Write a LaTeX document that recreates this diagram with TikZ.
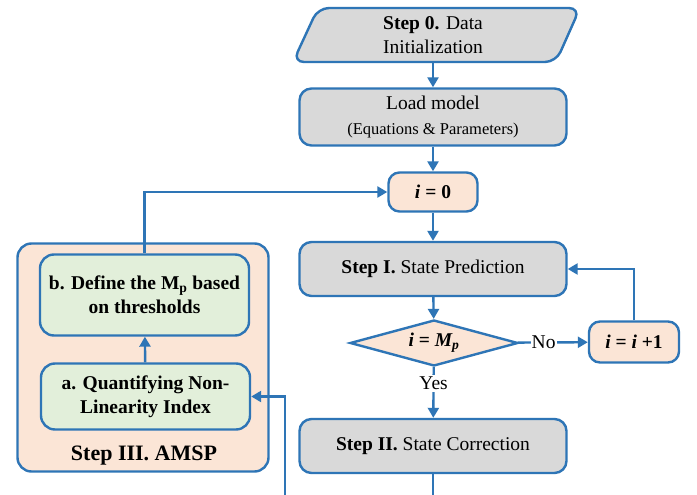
\documentclass[tikz,border=0pt]{standalone}
\usepackage{fontspec}
\setmainfont{Liberation Serif}
\usetikzlibrary{arrows.meta,shapes.geometric}

\definecolor{edgeblue}{RGB}{46,117,182}
\definecolor{boxgray}{RGB}{217,217,217}
\definecolor{boxorange}{RGB}{251,229,214}
\definecolor{boxgreen}{RGB}{226,239,218}

\newcommand{\bi}[1]{{\bfseries\itshape #1}}

\begin{document}
\begin{tikzpicture}[x=1pt,y=-1pt,line width=2.4pt,
    flow/.style={draw=edgeblue,-{Triangle[width=11pt,length=10pt]}},
    textfont/.style={font=\fontsize{19.5}{24}\selectfont},
    stepbox/.style={textfont,draw=edgeblue,fill=boxgray,rounded corners=12pt,
      minimum width=267pt,minimum height=54pt,align=center},
    counterbox/.style={textfont,draw=edgeblue,fill=boxorange,rounded corners=11pt,
      minimum height=39pt,align=center},
    amspbox/.style={textfont,draw=edgeblue,fill=boxgreen,rounded corners=14pt,
      minimum width=209pt,align=center,font=\fontsize{19.5}{24}\selectfont\bfseries}]
    \useasboundingbox[fill=white] (0,0) rectangle (697,495);

    % Step 0 and model loading
    \draw[edgeblue,fill=boxgray,rounded corners=11pt]
      (318,8) -- (580,8) -- (556,62) -- (293,62) -- cycle;
    \node[textfont,minimum height=54pt,align=center] (init) at (433,35)
      {\textbf{Step 0.} Data\\Initialization};
    \node[stepbox,minimum height=57pt] (load) at (433,117)
      {Load model\\[1pt]{\fontsize{16.5}{20}\selectfont (Equations \& Parameters)}};

    % Prediction loop
    \node[counterbox,minimum width=89pt] (izero) at (433,192) {\bi{i} \textbf{= 0}};
    \node[stepbox] (stepI) at (433,269) {\textbf{Step I.} State Prediction};
    \node[diamond,textfont,draw=edgeblue,fill=boxorange,aspect=3.6,inner sep=0pt,
      minimum width=168pt,minimum height=46pt] (check) at (434,343)
      {\bi{i} \textbf{=} \bi{M\textsubscript{p}}};
    \node[counterbox,minimum width=90pt,minimum height=41pt] (incr) at (634,342)
      {\bi{i} \textbf{=} \bi{i} \textbf{+1}};
    \node[stepbox] (stepII) at (433,446) {\textbf{Step II.} State Correction};

    % Step III
    \node[draw=edgeblue,fill=boxorange,rounded corners=14pt,
      minimum width=251pt,minimum height=228pt] (amsp) at (143,357.5) {};
    \node[amspbox,minimum height=81pt] (bbox) at (144.5,295)
      {b. Define the M\textsubscript{p} based\\on thresholds};
    \node[amspbox,minimum height=66pt] (abox) at (145.5,396.5)
      {a. Quantifying Non-\\Linearity Index};
    \node[font=\fontsize{22}{26}\selectfont\bfseries] (amsptitle) at (144,456)
      {Step III. AMSP};

    % Connectors
    \draw[flow] (init) -- (load);
    \draw[flow] (load) -- (izero);
    \draw[flow] (izero) -- (stepI);
    \draw[flow] (stepI) -- (check);
    \draw[flow] (check) -- node[textfont,fill=white,inner sep=1pt,pos=0.37]{No} (incr);
    \draw[flow] (incr.north) |- (stepI.east);
    \draw[flow] (check) -- node[textfont,fill=white,inner sep=2pt,pos=0.32]{Yes} (stepII);
    \draw[flow] (abox) -- (bbox);
    \draw[flow] (bbox.north) |- (izero.west);
    \coordinate (outII) at (433,495);
    \draw[edgeblue] (stepII) -- (outII);
    \coordinate (inA) at (285,495);
    \draw[flow] (inA) |- (abox.east);
  \end{tikzpicture}
\end{document}
